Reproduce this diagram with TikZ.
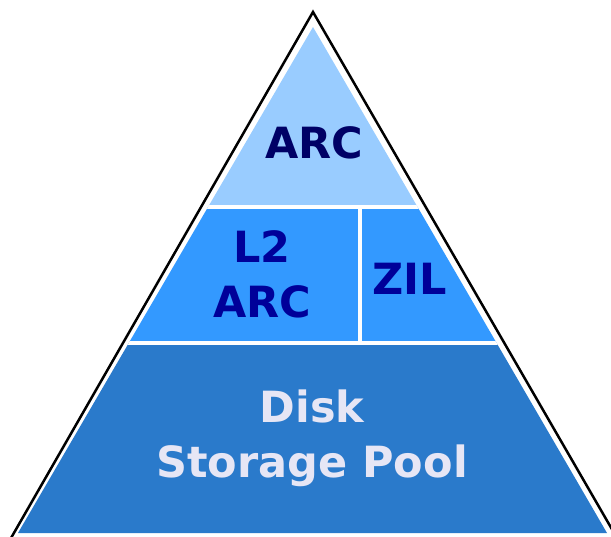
\documentclass[tikz,border=0pt]{standalone}
\usepackage{fontspec}
\setmainfont{DejaVu Sans}
\usepackage{tikz}
\usetikzlibrary{positioning}
\definecolor{arcblue}{RGB}{153, 204, 255}
\definecolor{cacheblue}{RGB}{51, 153, 255}
\definecolor{poolblue}{RGB}{42, 122, 203}
\definecolor{arctext}{RGB}{0, 0, 102}
\definecolor{cachetext}{RGB}{0, 0, 153}
\definecolor{pooltext}{RGB}{230, 230, 245}

\tikzset{
  layerlabel/.style={align=center, inner sep=0pt, font=\fontsize{43}{55}\selectfont\bfseries},
  gapline/.style={draw=white, line width=4pt}
}

\begin{document}
\begin{tikzpicture}[x=1pt, y=-1pt]
            \useasboundingbox (0,0) rectangle (611,537);
            \clip (0,0) rectangle (611,537);

            % outline of the pyramid
            \draw[line width=2.5pt, line join=miter] (5.3,548) -- (313,12) -- (622.8,548);

            % the three layers, cut to the inner triangle
            \begin{scope}
                \clip (313,27) -- (18,533) -- (607,533) -- cycle;
                \fill[arcblue] (0,0) rectangle (611,207);
                \fill[cacheblue] (0,207) rectangle (611,343.5);
                \fill[poolblue] (0,343.5) rectangle (611,540);
                \draw[gapline] (0,207) -- (611,207);
                \draw[gapline] (0,343.5) -- (611,343.5);
                \draw[gapline] (359.5,207) -- (359.5,343.5);
            \end{scope}

            \node[layerlabel, text=arctext] (arc) at (314,143) {ARC};
            \node[layerlabel, text=cachetext] (l2arc) at (262,274) {L2\\ARC};
            \node[layerlabel, text=cachetext] (zil) at (410,279) {ZIL};
            \node[layerlabel, text=pooltext] (pool) at (312,438) {Disk\\Storage Pool};
        \end{tikzpicture}
\end{document}
